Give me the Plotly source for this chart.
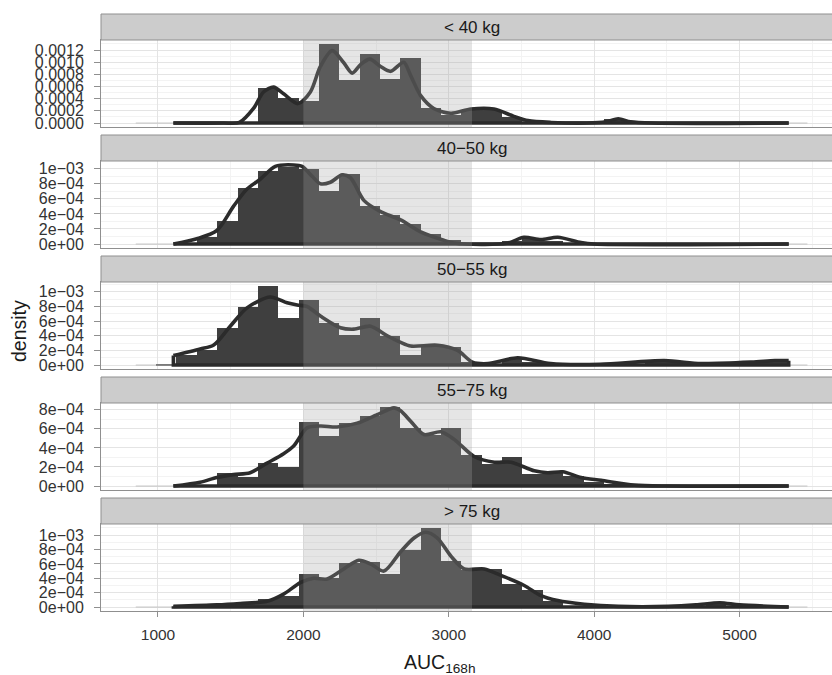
import plotly.graph_objects as go

# ---------------- data ----------------
PANEL_LABELS = ["< 40 kg", "40\u221250 kg", "50\u221255 kg", "55\u221275 kg", "> 75 kg"]

BIN_START = 847      # left edge of first histogram bin
BIN_WIDTH = 140
SHADE_LOW = 2000
SHADE_HIGH = 3160

#            k=-6 ... 26 (33 bins)
HIST_LT40 = [0, 0, 0, 0, 0, 0,
             0.00057, 0.00041, 0.00036, 0.00130, 0.00071, 0.00113, 0.00073, 0.00107,
             0.00024, 0.00013, 0.00021, 0.00021, 0.00010, 0, 0, 0, 0, 0.00007,
             0, 0, 0, 0, 0, 0, 0, 0, 0]
HIST_40_50 = [0, 0, 0, 0.00010, 0.00031, 0.00074,
              0.00097, 0.00102, 0.00100, 0.00071, 0.00093, 0.00050, 0.00039, 0.00026,
              0.00014, 0.00005, 0, 0, 0.00004, 0.00008, 0.00004, 0, 0, 0,
              0, 0, 0, 0, 0, 0, 0, 0, 0]
HIST_50_55 = [0, 0.00002, 0.00014, 0.00020, 0.00050, 0.00079,
              0.00108, 0.00064, 0.00089, 0.00057, 0.00041, 0.00064, 0.00039, 0.00014,
              0.00028, 0.00025, 0.00004, 0.00002, 0.00008, 0.00004, 0.00001, 0.00001, 0.00001, 0.00001,
              0, 0.00004, 0.00004, 0, 0, 0, 0.00004, 0.00006, 0]
HIST_55_75 = [0, 0, 0, 0, 0.00014, 0.00009,
              0.00024, 0.00020, 0.00067, 0.00053, 0.00066, 0.00073, 0.00083, 0.00061,
              0.00054, 0.00061, 0.00033, 0.00023, 0.00031, 0.00013, 0.00016, 0.00011, 0.00004, 0.00002,
              0, 0, 0, 0, 0, 0, 0, 0, 0]
HIST_GT75 = [0, 0, 0.00002, 0.00002, 0.00006, 0.00006,
             0.00011, 0.00016, 0.00046, 0.00041, 0.00061, 0.00062, 0.00046, 0.00079,
             0.00110, 0.00064, 0.00052, 0.00053, 0.00032, 0.00024, 0.00008, 0.00002, 0, 0,
             0, 0, 0, 0, 0.00004, 0, 0, 0, 0]

DENS_X_LT40 = [1106, 1450, 1560, 1657, 1726, 1795, 1864, 1963, 2048, 2117, 2198, 2278, 2336,
               2393, 2457, 2531, 2600, 2690, 2738, 2807, 2897, 3014, 3152, 3310, 3448, 3545,
               3703, 3950, 4080, 4166, 4250, 4400, 5338]
DENS_Y_LT40 = [0, 0, 0.00001, 0.00024, 0.00051, 0.00059, 0.00048, 0.00032, 0.00051, 0.00093,
               0.00119, 0.00099, 0.00082, 0.00096, 0.00105, 0.00093, 0.00085, 0.00100, 0.00078,
               0.00045, 0.00024, 0.00016, 0.00023, 0.00023, 0.00011, 0.00004, 0.00001, 0,
               0.00002, 0.00007, 0.00002, 0, 0]

DENS_X_40_50 = [1106, 1267, 1405, 1519, 1612, 1703, 1807, 1933, 1991, 2060, 2117, 2186, 2267,
                2324, 2416, 2531, 2669, 2807, 2966, 3050, 3400, 3517, 3634, 3750, 3910, 4000, 5338]
DENS_Y_40_50 = [0, 0.00007, 0.00018, 0.00050, 0.00073, 0.00086, 0.00103, 0.00105, 0.00103,
                0.00090, 0.00080, 0.00082, 0.00092, 0.00088, 0.00058, 0.00043, 0.00032, 0.00016,
                0.00005, 0.00001, 0.00001, 0.00009, 0.00006, 0.00009, 0.00002, 0, 0]

DENS_X_50_55 = [1106, 1290, 1381, 1497, 1612, 1772, 1888, 1957, 2025, 2117, 2255, 2347, 2462,
                2577, 2669, 2738, 2922, 3060, 3163, 3270, 3474, 3700, 4040, 4483, 4735, 5083,
                5243, 5338]
DENS_Y_50_55 = [0.00013, 0.00022, 0.00027, 0.00053, 0.00078, 0.00093, 0.00085, 0.00082, 0.00080,
                0.00067, 0.00051, 0.00049, 0.00053, 0.00040, 0.00031, 0.00026, 0.00027, 0.00020,
                0.00004, 0.00002, 0.00010, 0.00002, 0.00001, 0.00006, 0.00002, 0.00004, 0.00006,
                0.00006]

DENS_X_55_75 = [1106, 1290, 1405, 1519, 1634, 1750, 1864, 1933, 2025, 2117, 2232, 2370, 2508,
                2623, 2669, 2738, 2830, 2945, 3037, 3175, 3313, 3428, 3588, 3680, 3784, 3910,
                4048, 4277, 4500, 5338]
DENS_Y_55_75 = [0, 0.00004, 0.00009, 0.00012, 0.00014, 0.00024, 0.00034, 0.00042, 0.00061,
                0.00063, 0.00062, 0.00066, 0.00075, 0.00082, 0.00079, 0.00068, 0.00054, 0.00057,
                0.00049, 0.00031, 0.00025, 0.00025, 0.00016, 0.00014, 0.00015, 0.00009, 0.00006,
                0.00001, 0, 0]

DENS_X_GT75 = [1106, 1405, 1566, 1750, 1864, 1979, 2071, 2163, 2278, 2381, 2462, 2554, 2669,
               2761, 2841, 2922, 3014, 3106, 3244, 3359, 3519, 3634, 3750, 3933, 4166, 4510,
               4700, 4864, 5000, 5338]
DENS_Y_GT75 = [0.00001, 0.00003, 0.00005, 0.00008, 0.00018, 0.00034, 0.00040, 0.00039, 0.00053,
               0.00065, 0.00060, 0.00050, 0.00077, 0.00096, 0.00104, 0.00096, 0.00071, 0.00053,
               0.00053, 0.00044, 0.00030, 0.00016, 0.00009, 0.00004, 0.00001, 0.00001, 0.00003,
               0.00006, 0.00003, 0]

X_TICKS = [1000, 2000, 3000, 4000, 5000]
X_TICK_LABELS = ["1000", "2000", "3000", "4000", "5000"]

Y_TICKS_LT40 = [0, 0.0002, 0.0004, 0.0006, 0.0008, 0.0010, 0.0012]
Y_LABELS_LT40 = ["0.0000", "0.0002", "0.0004", "0.0006", "0.0008", "0.0010", "0.0012"]
Y_TICKS_SCI = [0, 0.0002, 0.0004, 0.0006, 0.0008, 0.001]
Y_LABELS_SCI = ["0e+00", "2e\u221204", "4e\u221204", "6e\u221204", "8e\u221204", "1e\u221203"]
Y_TICKS_55_75 = [0, 0.0002, 0.0004, 0.0006, 0.0008]
Y_LABELS_55_75 = ["0e+00", "2e\u221204", "4e\u221204", "6e\u221204", "8e\u221204"]

HISTS = [HIST_LT40, HIST_40_50, HIST_50_55, HIST_55_75, HIST_GT75]
DENS_X = [DENS_X_LT40, DENS_X_40_50, DENS_X_50_55, DENS_X_55_75, DENS_X_GT75]
DENS_Y = [DENS_Y_LT40, DENS_Y_40_50, DENS_Y_50_55, DENS_Y_55_75, DENS_Y_GT75]
Y_TICKS = [Y_TICKS_LT40, Y_TICKS_SCI, Y_TICKS_SCI, Y_TICKS_55_75, Y_TICKS_SCI]
Y_LABELS = [Y_LABELS_LT40, Y_LABELS_SCI, Y_LABELS_SCI, Y_LABELS_55_75, Y_LABELS_SCI]

# ---------------- layout geometry ----------------
W, H = 832, 675
ML, MR, MT, MB = 101, 0, 14, 64
PH = H - MT - MB
PERIOD, STRIP_H, PANEL_H = 121, 26, 87
X_RANGE = [608, 5636]

FONT = "Liberation Sans, Arial, Helvetica, sans-serif"
BAR_COLOR = "#3f3f3f"
LINE_COLOR = "#2b2b2b"
GRID_MAJOR = "#e4e4e4"
GRID_MINOR = "#f3f3f3"
BORDER = "#8f8f8f"


def frac(ypx):
    return (H - MB - ypx) / PH


fig = go.Figure()
shapes = []
annotations = []
layout_axes = {}

n_bins = len(HIST_LT40)
centers = [BIN_START + BIN_WIDTH * (k + 0.5) for k in range(n_bins)]
bin_lo = BIN_START
bin_hi = BIN_START + BIN_WIDTH * n_bins

for i in range(5):
    n = i + 1
    xa = "x" if n == 1 else f"x{n}"
    ya = "y" if n == 1 else f"y{n}"
    strip_top = MT + i * PERIOD
    panel_top = strip_top + STRIP_H
    panel_bot = panel_top + PANEL_H

    # thin baseline across all bins
    fig.add_trace(go.Scatter(x=[bin_lo, bin_hi], y=[0, 0], mode="lines",
                             line=dict(color="#c4c4c4", width=1),
                             xaxis=xa, yaxis=ya, hoverinfo="skip", showlegend=False))
    # histogram
    fig.add_trace(go.Bar(x=centers, y=HISTS[i], width=[BIN_WIDTH] * n_bins,
                         marker=dict(color=BAR_COLOR, line=dict(width=0)),
                         xaxis=xa, yaxis=ya, showlegend=False))
    dx, dy = DENS_X[i], DENS_Y[i]
    # density outline (baseline part)
    fig.add_trace(go.Scatter(x=[dx[0], dx[0], dx[-1], dx[-1]], y=[dy[0], 0, 0, dy[-1]],
                             mode="lines", line=dict(color=LINE_COLOR, width=3.6),
                             xaxis=xa, yaxis=ya, hoverinfo="skip", showlegend=False))
    # density curve
    fig.add_trace(go.Scatter(x=dx, y=dy, mode="lines",
                             line=dict(color=LINE_COLOR, width=3.6, shape="spline", smoothing=0.8),
                             xaxis=xa, yaxis=ya, hoverinfo="skip", showlegend=False))

    m = max(max(HISTS[i]), max(dy))
    yr = [-0.05 * m, 1.05 * m]

    layout_axes["xaxis" if n == 1 else f"xaxis{n}"] = dict(
        domain=[0, 1], range=X_RANGE, anchor=ya, tickmode="array",
        tickvals=X_TICKS, ticktext=X_TICK_LABELS,
        showticklabels=(n == 5), ticks="outside" if n == 5 else "",
        ticklen=5, tickcolor=BORDER, tickfont=dict(family=FONT, size=15.5, color="#333333"),
        ticklabelstandoff=4,
        showline=True, mirror=True, linecolor=BORDER, linewidth=1,
        showgrid=True, gridcolor=GRID_MAJOR, gridwidth=1, zeroline=False,
        minor=dict(tickmode="linear", tick0=500, dtick=1000, showgrid=True,
                   gridcolor=GRID_MINOR, ticks=""),
    )
    layout_axes["yaxis" if n == 1 else f"yaxis{n}"] = dict(
        domain=[frac(panel_bot), frac(panel_top)], range=yr, anchor=xa,
        tickmode="array", tickvals=Y_TICKS[i], ticktext=Y_LABELS[i],
        ticks="outside", ticklen=6, tickcolor=BORDER,
        tickfont=dict(family=FONT, size=16, color="#333333"),
        ticklabelstandoff=7,
        showline=True, linecolor=BORDER, linewidth=1,
        showgrid=True, gridcolor=GRID_MAJOR, gridwidth=1, zeroline=False,
        minor=dict(tickmode="linear", tick0=0.0001, dtick=0.0002, showgrid=True,
                   gridcolor=GRID_MINOR, ticks=""),
    )

    # shaded target range, drawn over the bars
    shapes.append(dict(type="rect", xref=xa, yref=f"{ya} domain", x0=SHADE_LOW, x1=SHADE_HIGH,
                       y0=0, y1=1, fillcolor="rgb(163,163,163)", opacity=0.283,
                       line=dict(width=0), layer="above"))
    # strip
    shapes.append(dict(type="rect", xref="paper", yref="paper", x0=0, x1=1.05,
                       y0=frac(panel_top), y1=frac(strip_top), fillcolor="#cccccc",
                       line=dict(color=BORDER, width=1), layer="above"))
    annotations.append(dict(text=PANEL_LABELS[i], xref="paper", yref="paper",
                            x=(472 - ML) / (W - ML - MR), y=frac(strip_top + STRIP_H / 2),
                            xanchor="center", yanchor="middle", showarrow=False,
                            font=dict(family=FONT, size=17, color="#1a1a1a")))

annotations.append(dict(text="density", xref="paper", yref="paper",
                        x=(19 - ML) / (W - ML - MR), y=frac(331), textangle=-90,
                        xanchor="center", yanchor="middle", showarrow=False,
                        font=dict(family=FONT, size=19.5, color="#1a1a1a")))
annotations.append(dict(text="AUC<sub>168h</sub>", xref="paper", yref="paper",
                        x=(440 - ML) / (W - ML - MR), y=frac(664),
                        xanchor="center", yanchor="middle", showarrow=False,
                        font=dict(family=FONT, size=19.5, color="#1a1a1a")))

fig.update_layout(
    width=W, height=H,
    margin=dict(l=ML, r=MR, t=MT, b=MB, pad=0),
    paper_bgcolor="white", plot_bgcolor="white",
    bargap=0, barmode="overlay", showlegend=False,
    shapes=shapes, annotations=annotations,
    **layout_axes,
)

fig.write_html("out.html", config={"displayModeBar": False},
               post_script="document.body.style.margin='0';document.body.style.padding='0';")
